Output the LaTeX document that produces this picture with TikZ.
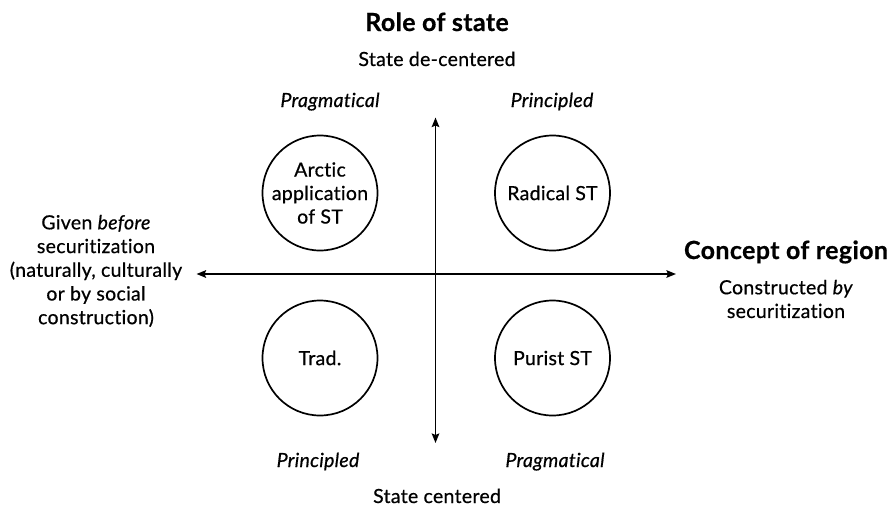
\documentclass[tikz,border=0pt]{standalone}
\usepackage{fontspec}
\setmainfont{Lato}[LetterSpace=1.5,Ligatures={NoCommon},
  UprightFeatures={FakeBold=0.6},
  ItalicFeatures={FakeBold=0.6},
  BoldFeatures={FakeBold=0.6}]
\usetikzlibrary{arrows.meta}
\begin{document}
\begin{tikzpicture}[x=1pt,y=-1pt,
  axis/.style={line width=1.9pt,{Stealth[length=9.5pt,width=7.5pt,inset=1.5pt]}-{Stealth[length=9.5pt,width=7.5pt,inset=1.5pt]}},
  quad/.style={circle,draw,line width=1.7pt,minimum size=115pt,inner sep=0pt,align=center,font=\fontsize{19.5}{23.5}\selectfont},
  lbl/.style={font=\fontsize{19.5}{23.7}\selectfont,align=center,inner sep=0pt},
  ital/.style={font=\fontsize{19.5}{23.5}\selectfont\itshape,inner sep=0pt,anchor=base},
  ttl/.style={font=\fontsize{25}{29}\selectfont\bfseries,inner sep=0pt,anchor=base}]
\useasboundingbox (0,0) rectangle (894,507);

% axes
\coordinate (top) at (435.5,117.5);
\coordinate (bot) at (435.5,443);
\coordinate (lft) at (196.5,274);
\coordinate (rgt) at (676,274);
\draw[axis] (bot) -- (top);
\draw[axis] (lft) -- (rgt);

% quadrant circles
\node[quad] (arctic) at (320,193) {Arctic\\application\\of ST};
\node[quad] (radical) at (552.5,193) {Radical ST};
\node[quad] (trad) at (320,358) {Trad.};
\node[quad] (purist) at (552.5,358) {Purist ST};

% vertical axis labels
\node[ttl] (rolestate) at (437,31) {Role of state};
\node[lbl,anchor=base] (decentered) at (437,66) {State de-centered};
\node[lbl,anchor=base] (centered) at (437,503) {State centered};

% quadrant qualifiers
\node[ital] (pragTL) at (330,107) {Pragmatical};
\node[ital] (prinTR) at (552,107) {Principled};
\node[ital] (prinBL) at (318,467) {Principled};
\node[ital] (pragBR) at (555,467) {Pragmatical};

% horizontal axis labels
\node[ttl] (concept) at (786,259) {Concept of region};
\node[lbl] (constructed) at (786,299) {Constructed \textit{by}\\securitization};
\node[lbl] (given) at (96,271) {Given \textit{before}\\securitization\\(naturally, culturally\\or by social\\construction)};
\end{tikzpicture}
\end{document}
